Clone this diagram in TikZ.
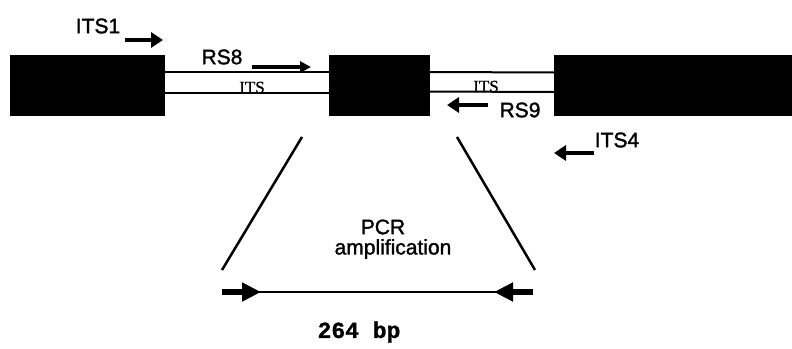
\documentclass[tikz,border=0pt]{standalone}
\usepackage{fontspec}
\setmainfont{Liberation Sans}
\newfontfamily\sansfb{Liberation Sans}[FakeBold=1.5]
\newfontfamily\tubefont{Liberation Serif}[FakeBold=1]
\newfontfamily\monob{Liberation Mono Bold}[FakeBold=1]
\usetikzlibrary{arrows.meta}
\begin{document}
\begin{tikzpicture}[x=1pt,y=-1pt,
 exon/.style={fill=black,draw=none,inner sep=0,minimum height=61pt},
 lbl/.style={font=\sansfb\fontsize{21}{21}\selectfont,inner sep=0},
 tubelbl/.style={font=\tubefont\fontsize{17}{17}\selectfont,inner sep=0,anchor=base},
 primer/.style={line width=4.5pt,-{Triangle[length=12pt,width=15pt]}},
 thinprimer/.style={line width=3.5pt,-{Triangle[length=11pt,width=11pt]}},
 bigprimer/.style={line width=5.5pt,-{Triangle[length=19pt,width=18pt]}},
 tube/.style={line width=2pt},
 slant/.style={line width=2.5pt},
]
\useasboundingbox (0,0) rectangle (792,348);
% exons
\node[exon,minimum width=155pt] (L) at (87.5,85) {};
\node[exon,minimum width=101pt] (M) at (379.5,85) {};
\node[exon,minimum width=238pt] (R) at (673,85.5) {};
% ITS tubes
\draw[tube] ([yshift=13pt]L.east) -- ([yshift=13pt]M.west);
\draw[tube] ([yshift=-8pt]L.east) -- ([yshift=-8pt]M.west);
\draw[tube] ([yshift=13pt]M.east) -- ([yshift=13pt]R.west);
\draw[tube] ([yshift=-6.5pt]M.east) -- ([yshift=-6.5pt]R.west);
\node[tubelbl] (its1l) at (252,93) {ITS};
\node[tubelbl] (its2l) at (486,92) {ITS};
% primers
\node[lbl] (ITS1) at (98,26) {ITS1};
\coordinate (p1a) at (125,40);
\coordinate (p1b) at (163,40);
\draw[primer] (p1a) -- (p1b);
\node[lbl] (RS8) at (222,57) {RS8};
\coordinate (p2a) at (252,67);
\coordinate (p2b) at (311,67);
\draw[thinprimer] (p2a) -- (p2b);
\node[lbl] (RS9) at (520,110) {RS9};
\coordinate (p3a) at (488,105);
\coordinate (p3b) at (447,105);
\draw[primer] (p3a) -- (p3b);
\node[lbl] (ITS4) at (617,140) {ITS4};
\coordinate (p4a) at (594,153);
\coordinate (p4b) at (554,153);
\draw[primer] (p4a) -- (p4b);
% slanted lines
\coordinate (s1a) at (302,137);
\coordinate (s1b) at (222,270);
\coordinate (s2a) at (457,137);
\coordinate (s2b) at (535,270);
\draw[slant] (s1a) -- (s1b);
\draw[slant] (s2a) -- (s2b);
% amplicon
\node[lbl] (pcr) at (383,227) {PCR};
\node[lbl] (amp) at (393,249) {amplification};
\coordinate (a1) at (222,292);
\coordinate (a2) at (533,292);
\coordinate (a1h) at (261,292);
\coordinate (a2h) at (494,292);
\draw[line width=1.8pt] (a1) -- (a2);
\draw[bigprimer] (a1) -- (a1h);
\draw[bigprimer] (a2) -- (a2h);
\node[font=\monob\fontsize{23}{23}\selectfont,inner sep=0] (bp) at (359,332) {264 bp};
\end{tikzpicture}
\end{document}
